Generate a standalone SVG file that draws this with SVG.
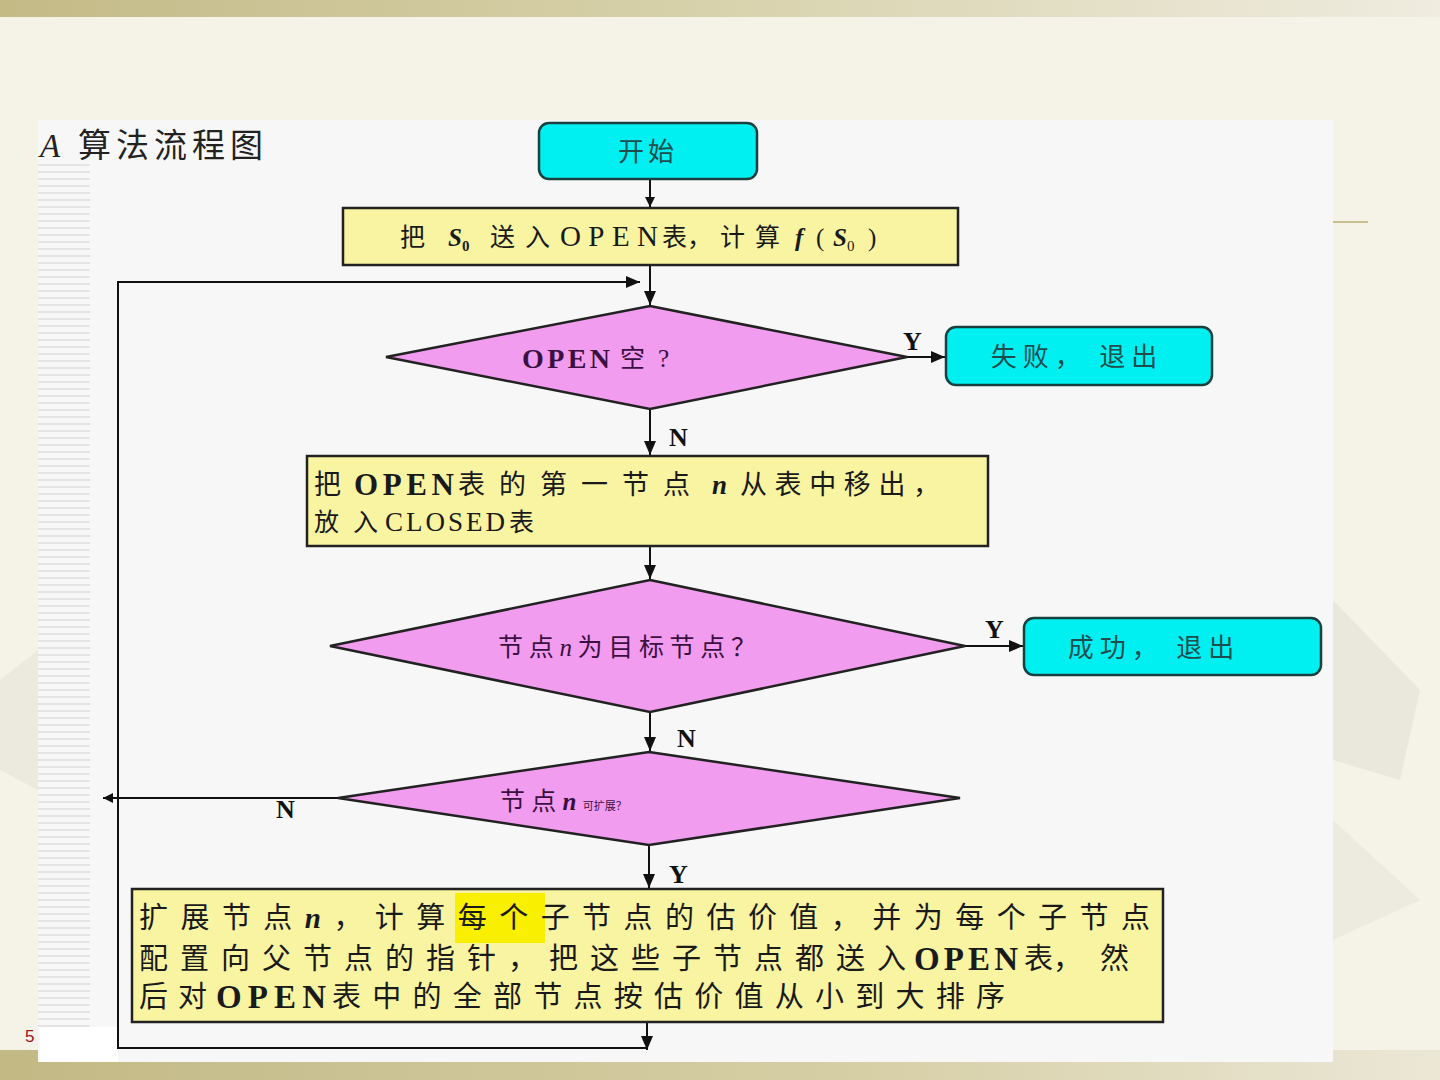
<svg xmlns="http://www.w3.org/2000/svg" width="1440" height="1080" viewBox="0 0 1440 1080">
<defs>
<linearGradient id="band" x1="0" y1="0" x2="1" y2="0">
<stop offset="0" stop-color="#c3ba86"/>
<stop offset="0.5" stop-color="#d8d2ac"/>
<stop offset="1" stop-color="#efece0"/>
</linearGradient>
<linearGradient id="band2" x1="0" y1="0" x2="1" y2="0">
<stop offset="0" stop-color="#c2b985"/>
<stop offset="0.6" stop-color="#d6cfa6"/>
<stop offset="1" stop-color="#ebe7d6"/>
</linearGradient>
<pattern id="stripes" width="8" height="7" patternUnits="userSpaceOnUse">
<rect width="8" height="7" fill="#f7f7f7"/>
<rect width="8" height="2" y="3" fill="#e4e4e4"/>
</pattern>
<marker id="arr" viewBox="0 0 10 10" refX="10" refY="5" markerWidth="10" markerHeight="10" markerUnits="userSpaceOnUse" orient="auto">
<path d="M0,0 L10,5 L0,10 z" fill="#111"/>
</marker>
<marker id="arrb" viewBox="0 0 14 12" refX="14" refY="6" markerWidth="14" markerHeight="12" markerUnits="userSpaceOnUse" orient="auto">
<path d="M0,0 L14,6 L0,12 z" fill="#111"/>
</marker>
</defs>
<style>
.cn{font-family:"Liberation Serif","Noto Sans CJK SC",serif;}
.proc{fill:#f8f4a2;stroke:#222;stroke-width:2.5;}
.term{fill:#00f0f2;stroke:#17403f;stroke-width:2.5;}
.dec{fill:#f29cf0;stroke:#222;stroke-width:2.5;}
.ln{fill:none;stroke:#111;stroke-width:2;}
.lbl{font-family:"Liberation Serif",serif;font-weight:bold;font-size:26px;fill:#111;}
.tt{fill:#1d4d4d;font-size:26px;}
.pt{fill:#1a1a1a;font-size:27px;}
.p3{fill:#1a1a1a;font-size:29px;}
.p1{fill:#1a1a1a;font-size:25px;}
.dt{fill:#3a1040;font-size:25px;}
.b{font-weight:bold;}
.i{font-style:italic;font-weight:bold;}
</style>
<!-- background -->
<rect width="1440" height="1080" fill="#f5f3e8"/>
<rect x="0" y="0" width="1440" height="17" fill="url(#band)"/>
<rect x="0" y="1050" width="1440" height="30" fill="url(#band2)"/>
<polygon points="1333,600 1420,690 1400,780 1333,760" fill="#e6e3d9" opacity="0.7"/>
<polygon points="1333,820 1420,900 1333,940" fill="#e8e5db" opacity="0.6"/>
<polygon points="0,680 38,650 38,790 0,770" fill="#e8e5db" opacity="0.7"/>
<line x1="1333" y1="222" x2="1368" y2="222" stroke="#c8c090" stroke-width="2"/>
<!-- panel -->
<rect x="38" y="120" width="1295" height="942" fill="#f7f7f7"/>
<rect x="38" y="160" width="52" height="870" fill="url(#stripes)"/>
<rect x="40" y="1027" width="78" height="35" fill="#ffffff"/>
<text x="25" y="1042" font-family="Liberation Sans,sans-serif" font-size="17" fill="#a01020">5</text>
<!-- title -->
<text class="cn" x="40" y="157" font-size="33" fill="#222" font-style="italic">A</text>
<text class="cn" x="78" y="157" font-size="33" fill="#222" textLength="185" lengthAdjust="spacing">算法流程图</text>

<!-- connectors -->
<g id="connectors">
<line class="ln" x1="650" y1="179" x2="650" y2="207" marker-end="url(#arr)"/>
<line class="ln" x1="650" y1="265" x2="650" y2="305" marker-end="url(#arrb)"/>
<polyline class="ln" points="647,1022 647,1050" marker-end="url(#arrb)"/>
<polyline class="ln" points="647,1048 118,1048 118,282 640,282" marker-end="url(#arrb)"/>
<line class="ln" x1="650" y1="409" x2="650" y2="455" marker-end="url(#arrb)"/>
<line class="ln" x1="907" y1="357" x2="945" y2="357" marker-end="url(#arrb)"/>
<line class="ln" x1="650" y1="546" x2="650" y2="579" marker-end="url(#arrb)"/>
<line class="ln" x1="965" y1="646" x2="1023" y2="646" marker-end="url(#arrb)"/>
<line class="ln" x1="650" y1="712" x2="650" y2="751" marker-end="url(#arrb)"/>
<line class="ln" x1="338" y1="798" x2="103" y2="798" marker-end="url(#arr)"/>
<line class="ln" x1="649" y1="845" x2="649" y2="888" marker-end="url(#arrb)"/>
<text class="lbl" x="903" y="350">Y</text>
<text class="lbl" x="669" y="446">N</text>
<text class="lbl" x="985" y="638">Y</text>
<text class="lbl" x="677" y="747">N</text>
<text class="lbl" x="276" y="818" font-weight="normal">N</text>
<text class="lbl" x="669" y="883">Y</text>
</g>

<g id="start">
<rect class="term" x="539" y="123" width="218" height="56" rx="10"/>
<text class="cn tt" x="648" y="161" text-anchor="middle" letter-spacing="4">开始</text>
</g>

<g id="init">
<rect class="proc" x="343" y="208" width="615" height="57"/>
<text class="cn p1" x="400" y="246">把</text>
<text class="cn p1" x="448" y="246"><tspan class="i">S</tspan><tspan class="b" font-size="15" dy="5">0</tspan></text>
<text class="cn p1" x="490" y="246" textLength="60" lengthAdjust="spacing">送入</text>
<text class="cn p1" x="560" y="246" style="font-size:29px" textLength="98" lengthAdjust="spacing">OPEN</text>
<text class="cn p1" x="662" y="246">表，</text>
<text class="cn p1" x="720" y="246" textLength="60" lengthAdjust="spacing">计算</text>
<text class="cn p1 i" x="795" y="246">f</text>
<text class="cn p1" x="816" y="246">(</text>
<text class="cn p1" x="833" y="246"><tspan class="i">S</tspan><tspan font-size="15" dy="5">0</tspan></text>
<text class="cn p1" x="868" y="246">)</text>
</g>

<g id="open-empty">
<polygon class="dec" points="650,306 907,357 650,409 386,357"/>
<text class="cn dt b" x="522" y="368" style="font-size:28px" textLength="88" lengthAdjust="spacing">OPEN</text>
<text class="cn dt" x="620" y="367">空</text>
<text class="cn dt" x="658" y="367">?</text>
</g>

<g id="fail">
<rect class="term" x="946" y="327" width="266" height="58" rx="10"/>
<text class="cn tt" x="1077" y="366" text-anchor="middle" letter-spacing="6">失败， 退出</text>
</g>

<g id="move">
<rect class="proc" x="307" y="456" width="681" height="90"/>
<text class="cn pt" x="314" y="494">把</text>
<text class="cn pt b" x="354" y="495" style="font-size:31px" textLength="100" lengthAdjust="spacing">OPEN</text>
<text class="cn pt" x="458" y="494" textLength="232" lengthAdjust="spacing">表的第一节点</text>
<text class="cn pt i" x="712" y="494">n</text>
<text class="cn pt" x="740" y="494" textLength="200" lengthAdjust="spacing">从表中移出，</text>
<text class="cn p1" x="314" y="531" textLength="64" lengthAdjust="spacing">放入</text>
<text class="cn p1" x="385" y="531" style="font-size:27px" textLength="120" lengthAdjust="spacing">CLOSED</text>
<text class="cn p1" x="509" y="531">表</text>
</g>

<g id="is-goal">
<polygon class="dec" points="650,580 965,646 650,712 330,646"/>
<text class="cn dt" x="498" y="656" textLength="258" lengthAdjust="spacing">节点<tspan font-style="italic">n</tspan>为目标节点？</text>
</g>

<g id="success">
<rect class="term" x="1024" y="618" width="297" height="57" rx="10"/>
<text class="cn tt" x="1154" y="657" text-anchor="middle" letter-spacing="6">成功， 退出</text>
</g>

<g id="expandable">
<polygon class="dec" points="649,752 960,798 649,845 338,798"/>
<text class="cn dt" x="500" y="810">节 点 <tspan class="i">n</tspan> <tspan font-size="11">可扩展？</tspan></text>
</g>

<g id="expand">
<rect class="proc" x="132" y="889" width="1031" height="133"/>
<rect x="455" y="893" width="90" height="50" fill="#f8f000"/>
<text class="cn p3" x="139" y="928" textLength="1011" lengthAdjust="spacing">扩展节点<tspan class="i">n</tspan>，计算每个子节点的估价值，并为每个子节点</text>
<text class="cn p3" x="139" y="969" textLength="767" lengthAdjust="spacing">配置向父节点的指针，把这些子节点都送入</text>
<text class="cn p3 b" x="914" y="970" style="font-size:33px" textLength="104" lengthAdjust="spacing">OPEN</text>
<text class="cn p3" x="1024" y="969">表，</text>
<text class="cn p3" x="1100" y="969">然</text>
<text class="cn p3" x="139" y="1007" textLength="68" lengthAdjust="spacing">后对</text>
<text class="cn p3 b" x="216" y="1008" style="font-size:33px" textLength="110" lengthAdjust="spacing">OPEN</text>
<text class="cn p3" x="332" y="1007" textLength="673" lengthAdjust="spacing">表中的全部节点按估价值从小到大排序</text>
</g>
</svg>
